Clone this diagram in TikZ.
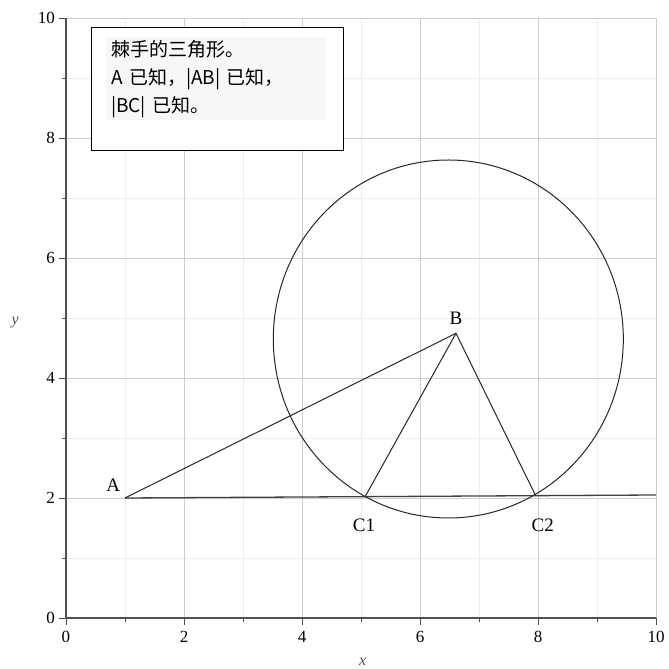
\documentclass[tikz,border=0pt]{standalone}
\usepackage{fontspec}
\setmainfont{Liberation Serif}
\newfontfamily\cjk{Noto Sans CJK SC}
\usetikzlibrary{positioning}

\definecolor{gridmajor}{HTML}{CDCDCD}
\definecolor{gridminor}{HTML}{EDEDED}
\definecolor{axisgray}{HTML}{505050}
\definecolor{notebg}{HTML}{F7F7F9}

\begin{document}
\begin{tikzpicture}[x=59pt, y=60pt,
        ptlabel/.style={font=\fontsize{19}{19}\selectfont, inner sep=0pt},
        ticklabel/.style={font=\fontsize{17}{17}\selectfont, inner sep=0pt},
        axislabel/.style={font=\fontsize{16}{16}\selectfont\itshape, text=axisgray, inner sep=0pt},
        figline/.style={line width=1pt, black!85}]
        \useasboundingbox (-66pt,-51pt) rectangle (603pt,618pt);
        % grid
        \foreach \i in {1,3,...,9} {
            \draw[gridminor, line width=0.8pt] (\i,0) -- (\i,10);
            \draw[gridminor, line width=0.8pt] (0,\i) -- (10,\i);
        }
        \foreach \i in {2,4,...,10} {
            \draw[gridmajor, line width=0.8pt] (\i,0) -- (\i,10);
            \draw[gridmajor, line width=0.8pt] (0,\i) -- (10,\i);
        }
        % axes and ticks
        \draw[axisgray, line width=1.3pt] (0,10) -- (0,0) -- (10,0);
        \foreach \i in {1,3,...,9} {
            \draw[axisgray, line width=0.8pt] (\i,0) -- ++(0,-4pt);
            \draw[axisgray, line width=0.8pt] (0,\i) -- ++(-4pt,0);
        }
        \foreach \i in {0,2,...,10} {
            \draw[axisgray, line width=0.8pt] (\i,0) -- ++(0,-7pt);
            \draw[axisgray, line width=0.8pt] (0,\i) -- ++(-7pt,0);
            \node[ticklabel, anchor=north] (xt\i) at ([yshift=-13pt]\i,0) {\i};
            \node[ticklabel, anchor=east] (yt\i) at ([xshift=-11pt]0,\i) {\i};
        }
        \node[axislabel] (xlab) at (5.03,-0.73) {x};
        \node[axislabel] (ylab) at (-0.86,4.93) {y};

        % the triangle
        \coordinate (A) at (1,2);
        \coordinate (B) at (6.61,4.745);
        \coordinate (C1) at (5.07,2.023);
        \coordinate (C2) at (7.96,2.039);
        \coordinate (E) at (10,2.05);
        \coordinate (O) at (6.48,4.65);
        \draw[figline, line width=1.3pt, black!75] (A) -- (E);
        \draw[figline] (O) ellipse [x radius=175pt, y radius=179pt];
        \draw[figline] (A) -- (B);
        \draw[figline] (B) -- (C1);
        \draw[figline] (B) -- (C2);
        \node[ptlabel] (lA) at (0.80,2.22) {A};
        \node[ptlabel] (lB) at (6.61,5.0) {B};
        \node[ptlabel] (lC1) at (5.05,1.55) {C1};
        \node[ptlabel] (lC2) at (8.08,1.55) {C2};

        % note
        \node[draw, line width=1pt, fill=white, anchor=north west,
              minimum width=252pt, minimum height=123pt] (note) at (0.4237,9.85) {};
        \node[fill=notebg, anchor=north west, minimum width=220pt, minimum height=83pt,
              text width=210pt, inner xsep=5pt, inner ysep=0pt, align=left,
              font=\cjk\fontsize{19}{28}\selectfont]
              (txt) at ([xshift=15pt, yshift=-10pt]note.north west)
              {棘手的三角形。\\A 已知，|AB| 已知，\\|BC| 已知。};
\end{tikzpicture}
\end{document}
